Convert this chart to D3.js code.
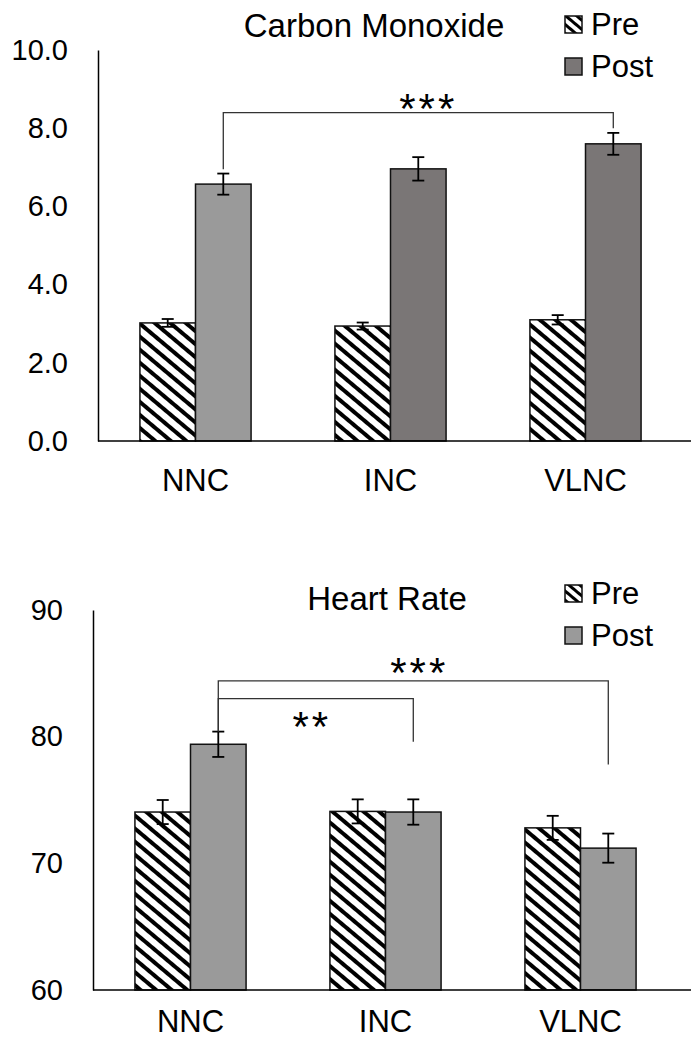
<!DOCTYPE html>
<html>
<head>
<meta charset="utf-8">
<script src="https://cdn.jsdelivr.net/npm/d3@7"></script>
<style>
  body { margin: 0; background: #fff; }
  text { font-family: "Liberation Sans", Arial, sans-serif; fill: #000; }
</style>
</head>
<body>
<div id="chart"></div>
<script>
// data
const groups = ["NNC", "INC", "VLNC"];

const coPre = [3.02, 2.94, 3.1];
const coPreErr = [0.1, 0.09, 0.12];
const coPost = [6.57, 6.96, 7.6];
const coPostErr = [0.27, 0.3, 0.28];
const coTicks = [0, 2, 4, 6, 8, 10];

const hrPre = [74.05, 74.1, 72.8];
const hrPreErr = [0.95, 0.95, 0.95];
const hrPost = [79.4, 74.05, 71.2];
const hrPostErr = [1.0, 1.0, 1.15];
const hrTicks = [60, 70, 80, 90];

// significance brackets (levels in data units)
const coSig = [
  { from: "NNC", to: "VLNC", level: 8.4, leftEnd: 6.95, rightEnd: 8.0, label: "***" }
];
const hrSig = [
  { from: "NNC", to: "VLNC", level: 84.4, leftEnd: 80.4, rightEnd: 77.8, label: "***" },
  { from: "NNC", to: "INC", level: 83.0, leftEnd: 80.4, rightEnd: 79.6, label: "**" }
];

const width = 691;
const height = 1050;

const svg = d3.select("#chart")
  .append("svg")
  .attr("width", width)
  .attr("height", height);

// hatch patterns
const defs = svg.append("defs");
function hatch(id, size, stripe) {
  const p = defs.append("pattern")
    .attr("id", id)
    .attr("patternUnits", "userSpaceOnUse")
    .attr("width", size)
    .attr("height", size)
    .attr("patternTransform", "rotate(-50)");
  p.append("rect").attr("width", size).attr("height", size).attr("fill", "#fff");
  p.append("rect").attr("width", stripe).attr("height", size).attr("fill", "#000");
}
hatch("hatch", 10, 4);
hatch("hatchSmall", 7, 3);

function drawChart(cfg) {
  const g = svg.append("g");

  const x = d3.scaleBand()
    .domain(groups)
    .range([cfg.left, cfg.left + 585])
    .paddingInner(0.43)
    .paddingOuter(0.215);
  const half = x.bandwidth() / 2;

  const y = d3.scaleLinear()
    .domain(cfg.domain)
    .range([cfg.bottom, cfg.top]);

  // bars
  const rows = groups.map((k, i) => ({
    k, pre: cfg.pre[i], preErr: cfg.preErr[i],
    post: cfg.post[i], postErr: cfg.postErr[i], color: cfg.postColors[i]
  }));

  g.selectAll(".pre")
    .data(rows)
    .enter()
    .append("rect")
    .attr("x", d => x(d.k))
    .attr("y", d => y(d.pre))
    .attr("width", half)
    .attr("height", d => y(cfg.domain[0]) - y(d.pre))
    .attr("fill", "url(#hatch)")
    .attr("stroke", "#111")
    .attr("stroke-width", 1.5);

  g.selectAll(".post")
    .data(rows)
    .enter()
    .append("rect")
    .attr("x", d => x(d.k) + half)
    .attr("y", d => y(d.post))
    .attr("width", half)
    .attr("height", d => y(cfg.domain[0]) - y(d.post))
    .attr("fill", d => d.color)
    .attr("stroke", "#111")
    .attr("stroke-width", 1.5);

  // error bars
  const errs = [];
  rows.forEach(d => {
    errs.push({ cx: x(d.k) + half / 2, v: d.pre, e: d.preErr });
    errs.push({ cx: x(d.k) + half * 1.5, v: d.post, e: d.postErr });
  });
  const eb = g.selectAll(".err").data(errs).enter().append("g")
    .attr("stroke", "#000").attr("stroke-width", 1.8);
  eb.append("line")
    .attr("x1", d => d.cx).attr("x2", d => d.cx)
    .attr("y1", d => y(d.v + d.e)).attr("y2", d => y(d.v - d.e));
  eb.append("line")
    .attr("x1", d => d.cx - 6).attr("x2", d => d.cx + 6)
    .attr("y1", d => y(d.v + d.e)).attr("y2", d => y(d.v + d.e));
  eb.append("line")
    .attr("x1", d => d.cx - 6).attr("x2", d => d.cx + 6)
    .attr("y1", d => y(d.v - d.e)).attr("y2", d => y(d.v - d.e));

  // y axis
  const yAxis = g.append("g")
    .attr("transform", `translate(${cfg.left},0)`)
    .call(d3.axisLeft(y).tickValues(cfg.ticks).tickSize(0).tickSizeOuter(0)
      .tickPadding(30).tickFormat(cfg.fmt));
  yAxis.select(".domain").attr("stroke", "#000").attr("stroke-width", 1.5);
  yAxis.selectAll("text").attr("font-size", 29).attr("font-family", null);

  // baseline
  g.append("line")
    .attr("x1", cfg.left).attr("x2", width)
    .attr("y1", y(cfg.domain[0])).attr("y2", y(cfg.domain[0]))
    .attr("stroke", "#000").attr("stroke-width", 1.5);

  // x categories
  const xAxis = g.append("g")
    .attr("transform", `translate(0,${y(cfg.domain[0])})`)
    .call(d3.axisBottom(x).tickSize(0).tickPadding(cfg.catPad));
  xAxis.select(".domain").remove();
  xAxis.selectAll("text").attr("font-size", 31).attr("font-family", null);

  // title
  g.append("text")
    .attr("x", cfg.titleX).attr("y", cfg.titleY)
    .attr("text-anchor", "middle")
    .attr("font-size", 33)
    .text(cfg.title);

  // legend
  const leg = g.append("g");
  const items = [
    { name: "Pre", fill: "url(#hatchSmall)" },
    { name: "Post", fill: cfg.legendPost }
  ];
  items.forEach((it, i) => {
    const ly = cfg.legendY + i * 42;
    leg.append("rect")
      .attr("x", 565).attr("y", ly - 19)
      .attr("width", 17).attr("height", 17)
      .attr("fill", it.fill)
      .attr("stroke", "#111").attr("stroke-width", 1.5);
    leg.append("text")
      .attr("x", 591).attr("y", ly)
      .attr("font-size", 31)
      .text(it.name);
  });

  // significance brackets
  cfg.sig.forEach(s => {
    const x1 = x(s.from) + half * 1.5;
    const x2 = x(s.to) + half * 1.5;
    g.append("path")
      .attr("d", `M${x1},${y(s.leftEnd)}V${y(s.level)}H${x2}V${y(s.rightEnd)}`)
      .attr("fill", "none")
      .attr("stroke", "#333")
      .attr("stroke-width", 1.3);
    g.append("text")
      .attr("x", (x1 + x2) / 2 + (s.dx || 0))
      .attr("y", y(s.level) + s.dy)
      .attr("text-anchor", "middle")
      .attr("font-size", 42)
      .attr("letter-spacing", 3)
      .text(s.label);
  });
}

coSig[0].dx = 10; coSig[0].dy = 10;
hrSig[0].dx = 6; hrSig[0].dy = 6;
hrSig[1].dx = -4; hrSig[1].dy = 42;

drawChart({
  left: 98, top: 50, bottom: 441, domain: [0, 10],
  ticks: coTicks, fmt: d3.format(".1f"),
  pre: coPre, preErr: coPreErr, post: coPost, postErr: coPostErr,
  postColors: ["#9a9a9a", "#7a7676", "#7a7676"], legendPost: "#7a7676",
  title: "Carbon Monoxide", titleX: 374, titleY: 37,
  legendY: 35, catPad: 28, sig: coSig
});

drawChart({
  left: 93, top: 610, bottom: 990, domain: [60, 90],
  ticks: hrTicks, fmt: d3.format("d"),
  pre: hrPre, preErr: hrPreErr, post: hrPost, postErr: hrPostErr,
  postColors: ["#9a9a9a", "#9a9a9a", "#9a9a9a"], legendPost: "#9a9a9a",
  title: "Heart Rate", titleX: 387, titleY: 610,
  legendY: 604, catPad: 20, sig: hrSig
});
</script>
</body>
</html>
